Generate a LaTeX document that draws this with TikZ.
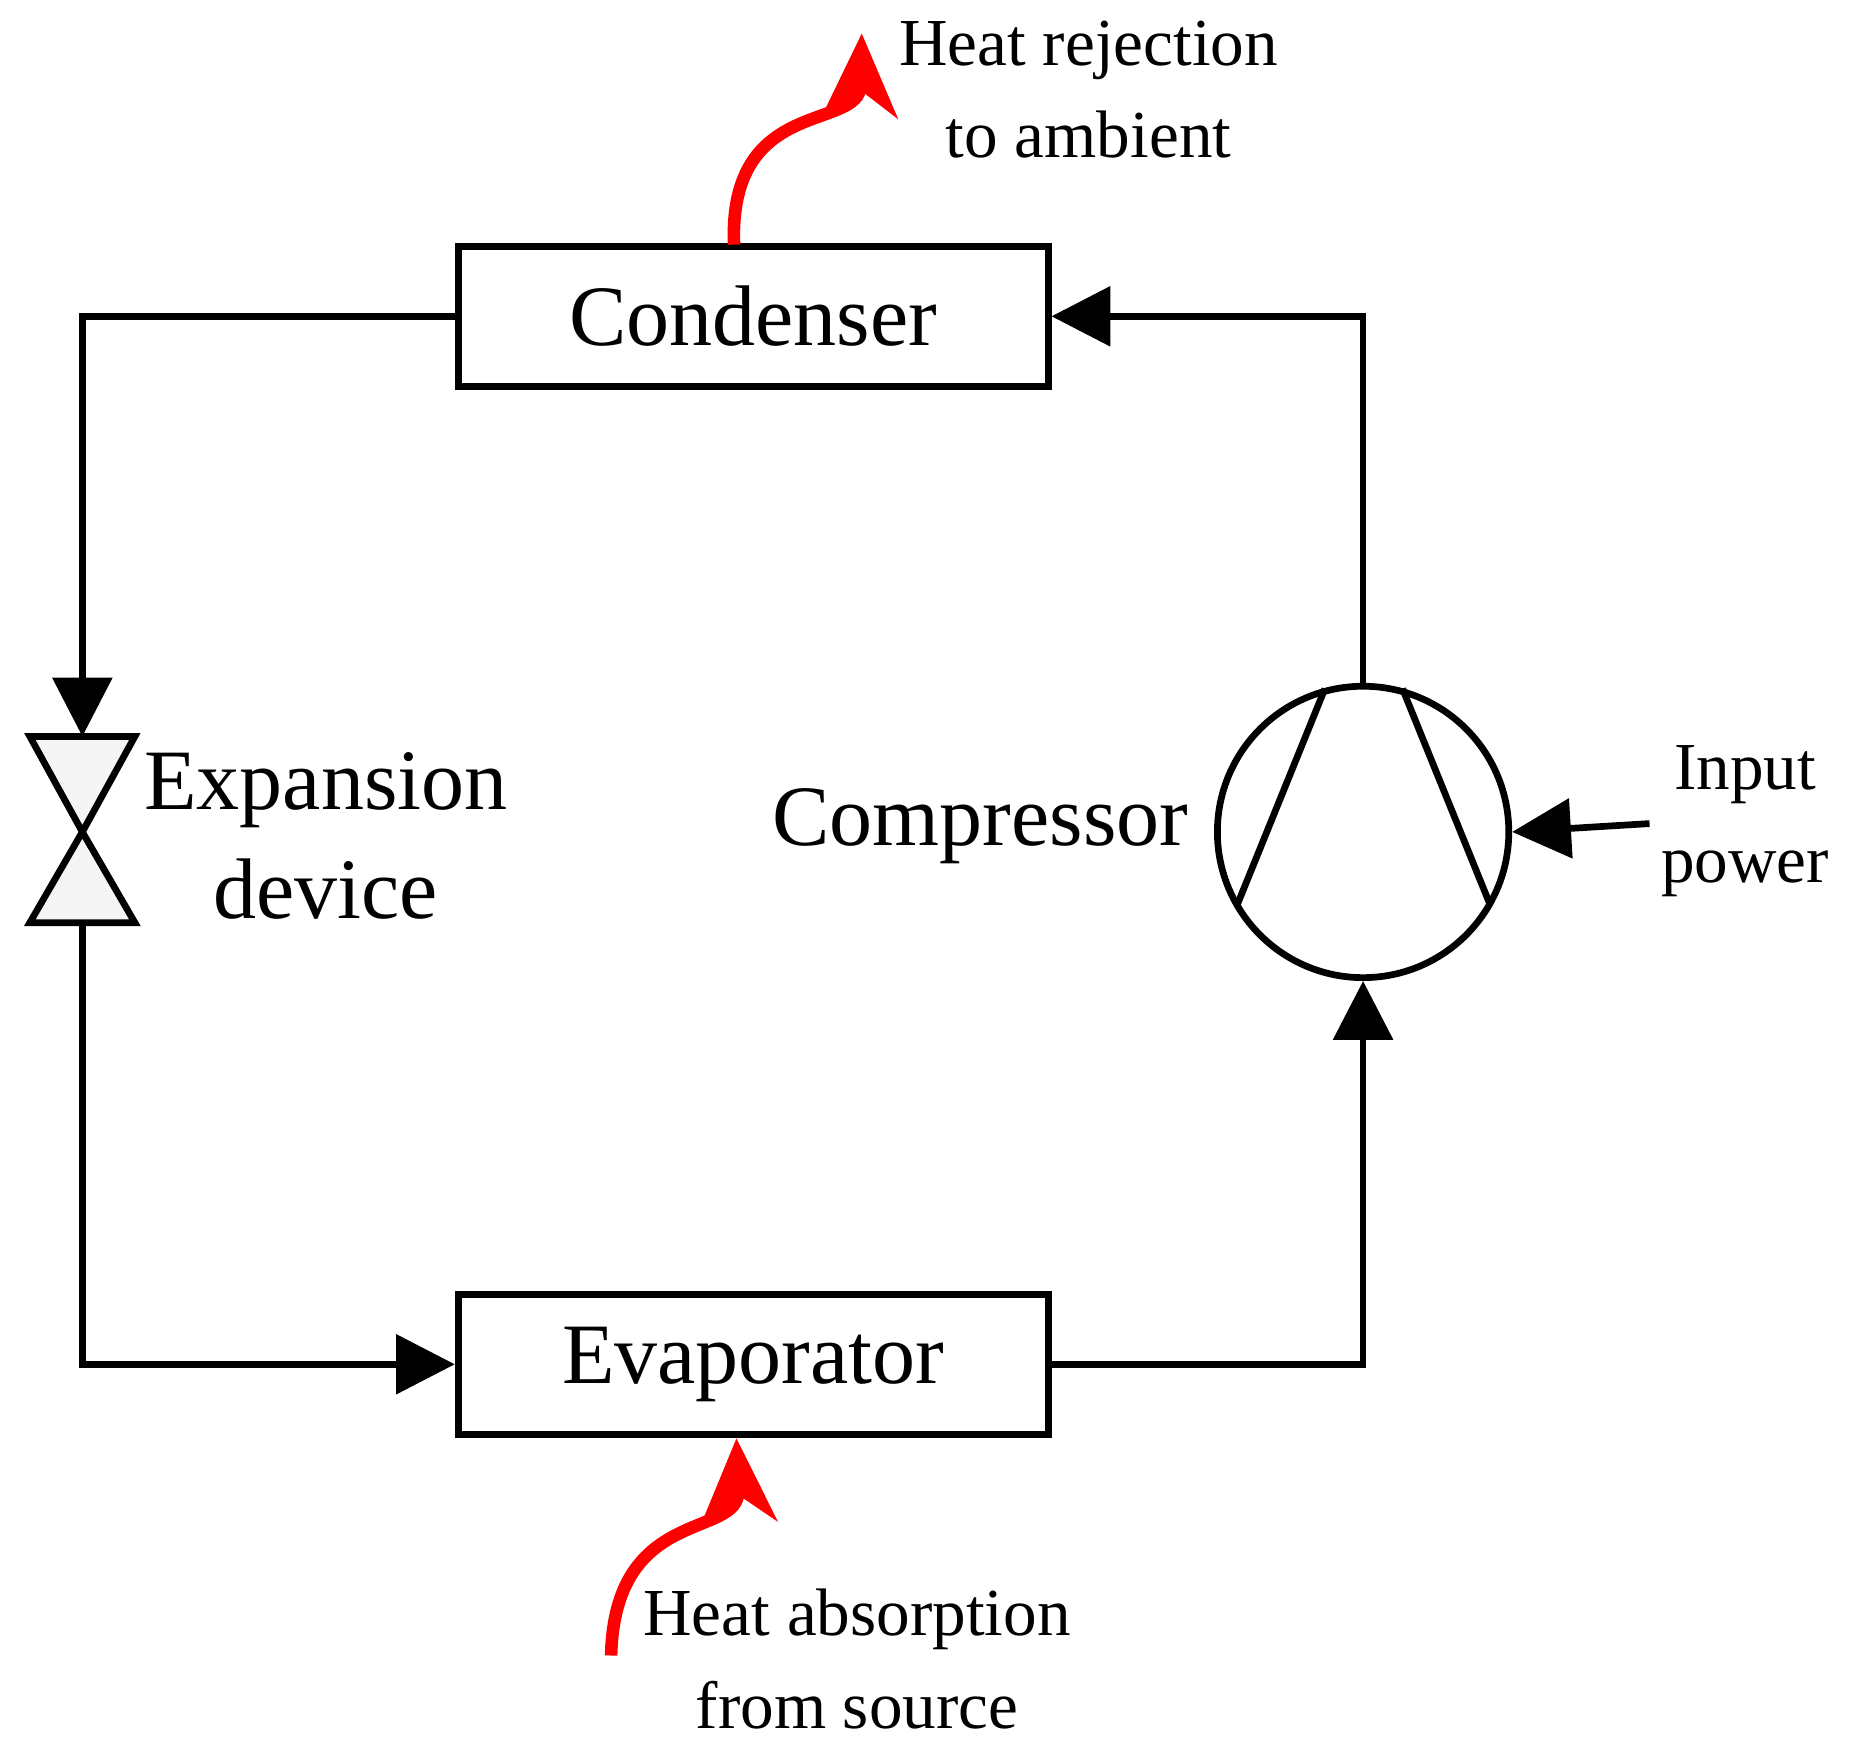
\documentclass[tikz,border=0pt]{standalone}
\usepackage{fontspec}
\setmainfont{Liberation Serif}
\usetikzlibrary{arrows.meta}
\begin{document}
\begin{tikzpicture}[x=0.01cm,y=-0.01cm,
  line/.style={line width=1.6pt},
  arr/.style={line, -{Triangle[length=14pt,width=14pt]}},
  heat/.style={red, line width=3pt, -{Stealth[length=20pt,width=18pt]}},
  box/.style={draw, line width=1.6pt, minimum width=4.94cm, minimum height=1.17cm, font=\fontsize{20.5}{24}\selectfont},
  big/.style={font=\fontsize{20.5}{26}\selectfont, align=center},
  small/.style={font=\fontsize{16}{22}\selectfont, align=center}]
\fill[white] (0,0) rectangle (1560,1457);
\useasboundingbox (0,0) rectangle (1560,1457);
\node[box] (cond) at (631,265) {Condenser};
\node[box] (evap) at (631,1143) {Evaporator};
\node[draw, circle, line width=1.6pt, minimum size=2.44cm, inner sep=0] (comp) at (1142,697) {};
\coordinate (c1) at (1110,577); \coordinate (c2) at (1037,757);
\coordinate (c3) at (1175,577); \coordinate (c4) at (1248,757);
\draw[line] (c1) -- (c2) (c3) -- (c4);
\draw[line, fill=gray!8] (25,617) -- (113,617) -- (69,697) -- cycle;
\draw[line, fill=gray!8] (69,697) -- (25,773) -- (113,773) -- cycle;
\coordinate (vtop) at (69,617); \coordinate (vbot) at (69,773);
\coordinate (k1) at (69,265); \coordinate (k2) at (69,1143);
\coordinate (k3) at (1142,1143); \coordinate (k4) at (1142,265);
\draw[arr] (cond.west) -- (k1) -- (vtop);
\draw[arr] (vbot) -- (k2) -- (evap.west);
\draw[arr] (evap.east) -- (k3) -- (comp.south);
\draw[arr] (comp.north) -- (k4) -- (cond.east);
\node[small] (inp) at (1462,688) {Input\\power};
\coordinate (ip) at (1382,690);
\draw[arr] (ip) -- (comp.east);
\node[big, anchor=east] (cl) at (1008,692) {Compressor};
\node[big] (el) at (273,700) {Expansion\\device};
\coordinate (h1) at (615,205); \coordinate (h2) at (722,28);
\draw[heat] (h1) .. controls (610,80) and (720,110) .. (h2);
\node[small] (hr) at (912,75) {Heat rejection\\to ambient};
\coordinate (a1) at (512,1387); \coordinate (a2) at (617,1205);
\draw[heat] (a1) .. controls (515,1260) and (620,1290) .. (a2);
\node[small] (ha) at (718,1390) {Heat absorption\\from source};
\end{tikzpicture}
\end{document}
